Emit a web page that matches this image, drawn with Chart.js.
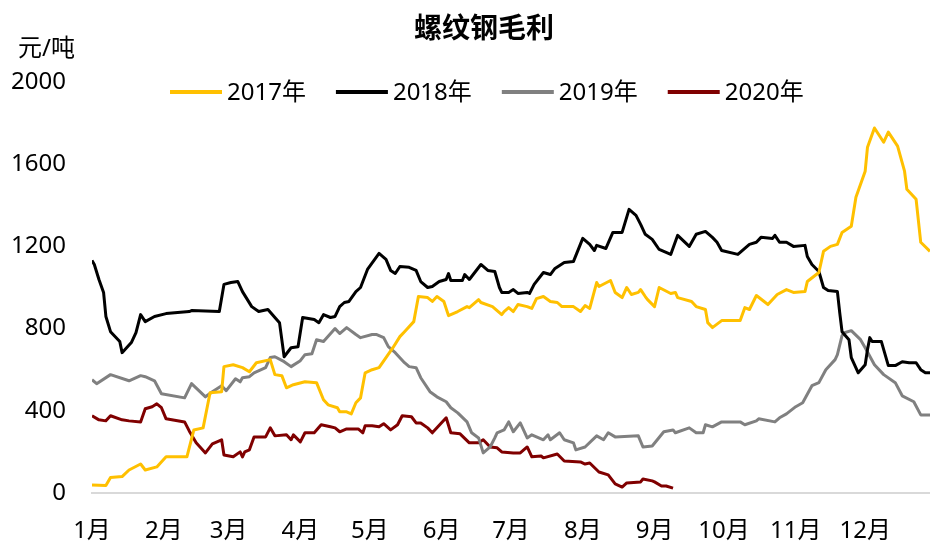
<!DOCTYPE html>
<html>
<head>
<meta charset="utf-8">
<script src="https://cdn.jsdelivr.net/npm/chart.js@4.4.0/dist/chart.umd.min.js"></script>
<style>
  html, body { margin: 0; padding: 0; background: #fff; }
  #wrap { width: 930px; height: 547px; }
</style>
</head>
<body>
<div id="wrap"><canvas id="marginChart" width="930" height="547"></canvas></div>
<script>
// x values are day-of-year (1 = 1月1日)
var days2017 = [1,7,9,14,17,22,24,29,33,42,45,49,52,57,58,62,66,69,72,78,80,83,85,88,93,98,101,103,107,108,
    111,113,115,117,119,122,125,128,131,134,136,140,142,146,148,150,153,155,159,163,164,168,169,174,178,179,181,183,185,189,
    191,193,196,199,202,204,209,212,214,216,219,220,225,227,230,232,234,237,238,240,241,244,246,251,253,254,260,262,266,267,
    269,273,281,283,285,288,293,297,301,304,309,310,315,317,320,323,325,329,331,335,336,339,343,345,349,352,353,357,359,363];
var vals2017 = [39,36,75,80,112,141,112,127,176,176,307,317,488,493,615,624,610,590,634,649,576,571,512,527,541,537,454,429,415,395,
    395,385,439,463,585,600,610,659,707,761,785,834,956,951,932,956,932,863,883,907,902,941,927,907,868,883,902,883,917,907,
    898,946,956,932,927,907,907,883,912,898,1024,1005,1034,976,951,1000,966,976,990,956,941,907,1000,971,976,951,932,907,893,829,
    805,839,839,902,893,961,917,966,990,976,980,1029,1073,1176,1200,1210,1268,1298,1439,1566,1683,1776,1707,1756,1688,1566,1478,1429,1220,1176];

var days2018 = [1,2,4,6,7,9,13,14,18,20,22,24,28,33,43,44,56,58,61,64,66,70,73,77,80,82,84,87,90,92,
    97,99,101,104,106,108,110,112,115,117,120,125,128,130,132,134,138,141,143,146,148,151,154,155,156,161,162,164,169,172,
    175,177,178,181,183,185,189,190,192,196,199,201,205,209,213,216,218,219,223,226,230,233,236,238,240,243,246,251,254,259,
    262,266,269,271,273,280,285,288,290,295,296,298,301,304,309,310,312,315,317,319,323,324,325,328,329,332,335,336,337,338,
    342,345,348,351,354,357,359,361,363];
var vals2018 = [1132,1112,1039,976,859,785,737,683,732,780,868,834,859,873,883,888,883,1015,1024,1029,980,907,883,893,854,829,663,707,712,854,
    844,829,868,854,859,907,927,932,980,1000,1088,1166,1137,1083,1068,1102,1098,1083,1029,1000,1005,1029,1039,1068,1034,1034,1063,1039,1112,1083,
    1078,1000,976,976,990,971,976,971,1015,1073,1063,1093,1122,1127,1239,1210,1180,1205,1190,1268,1268,1380,1351,1307,1259,1234,1185,1161,1254,1200,
    1259,1273,1244,1220,1180,1161,1210,1220,1244,1239,1254,1220,1220,1200,1205,1151,1112,1078,1000,985,980,878,785,746,659,585,624,698,756,737,
    737,620,620,639,634,634,600,585,585];

var days2019 = [1,3,9,17,22,24,28,31,41,44,50,53,57,59,63,65,66,69,71,76,78,80,84,87,91,93,96,98,101,106,
    108,111,115,117,122,124,127,129,132,136,138,141,143,147,150,154,156,159,163,165,168,170,173,175,176,179,181,183,186,189,
    191,196,198,199,203,205,209,210,214,219,222,224,227,237,239,243,248,252,253,259,262,265,266,269,273,281,283,288,289,296,
    298,301,305,308,312,315,318,322,323,325,326,329,333,335,339,343,348,351,356,359,363];
var vals2019 = [551,532,576,546,571,566,546,483,463,532,468,493,522,498,556,541,561,566,585,610,659,663,639,615,644,673,678,746,737,800,
    776,805,771,756,771,771,756,712,683,634,615,610,561,493,468,444,415,390,346,293,268,195,224,268,293,307,346,298,341,268,
    283,259,283,259,293,259,244,210,224,278,259,293,273,278,224,229,298,307,293,317,293,293,332,322,346,346,332,351,361,346,
    366,385,420,439,522,537,600,649,673,766,780,790,746,707,624,576,537,473,444,380,380];

var days2020 = [1,4,7,9,14,17,22,24,27,29,31,33,41,43,46,50,53,57,58,62,65,66,67,69,71,76,78,80,85,87,
    88,91,93,97,100,104,106,108,111,116,118,119,122,125,127,130,133,135,139,141,143,146,148,154,156,160,164,168,170,173,
    176,178,183,186,189,191,195,196,202,205,212,214,216,220,224,227,230,232,238,239,243,244,247,249,252];
var vals2020 = [376,356,351,376,356,351,346,410,420,434,415,361,346,302,244,195,239,259,185,176,200,176,200,210,273,273,317,278,283,259,
    283,249,293,293,332,322,317,298,312,312,293,327,327,322,337,307,332,376,371,341,341,317,293,366,293,288,244,244,259,224,
    220,200,195,195,224,176,180,171,190,156,151,141,146,102,88,44,29,49,54,68,59,54,34,34,24];

var seriesLabels = ['2017年', '2018年', '2019年', '2020年'];
var seriesColors = ['#FFC000', '#000000', '#808080', '#800000'];
var monthTicks = [1, 32, 60, 91, 121, 152, 182, 213, 244, 274, 305, 335];
var monthLabels = ['1月', '2月', '3月', '4月', '5月', '6月', '7月', '8月', '9月', '10月', '11月', '12月'];
var yTicks = [0, 400, 800, 1200, 1600, 2000];
var chartTitle = '螺纹钢毛利';
var unitLabel = '元/吨';

var fontFamily = '"Noto Sans", "Noto Sans CJK SC", sans-serif';

function toPoints(days, vals) {
    return days.map(function (d, i) {
        return { x: d, y: vals[i] };
    });
}

function makeDataset(idx, days, vals) {
    return {
        label: seriesLabels[idx],
        data: toPoints(days, vals),
        borderColor: seriesColors[idx],
        backgroundColor: seriesColors[idx],
        borderWidth: 3,
        borderJoinStyle: 'round',
        pointRadius: 0,
        tension: 0,
        fill: false
    };
}

// title, unit and legend drawn at fixed spots like the original sheet
var headerPlugin = {
    id: 'header',
    afterDraw: function (chart) {
        var ctx = chart.ctx;
        ctx.save();
        ctx.fillStyle = '#000';
        ctx.textBaseline = 'middle';

        ctx.font = 'bold 28px "Noto Sans CJK SC", sans-serif';
        ctx.textAlign = 'center';
        ctx.fillText(chartTitle, 484, 27);

        ctx.font = '24px ' + fontFamily;
        ctx.textAlign = 'left';
        ctx.fillText(unitLabel, 18, 49);

        var x = 170;
        chart.data.datasets.forEach(function (ds) {
            ctx.strokeStyle = ds.borderColor;
            ctx.lineWidth = 4;
            ctx.beginPath();
            ctx.moveTo(x, 92);
            ctx.lineTo(x + 52, 92);
            ctx.stroke();
            ctx.fillText(ds.label, x + 57, 93);
            x += 52 + 5 + ctx.measureText(ds.label).width + 30;
        });
        ctx.restore();
    }
};

var ctx = document.getElementById('marginChart').getContext('2d');
var marginChart = new Chart(ctx, {
    type: 'line',
    data: {
        datasets: [
            makeDataset(0, days2017, vals2017),
            makeDataset(1, days2018, vals2018),
            makeDataset(2, days2019, vals2019),
            makeDataset(3, days2020, vals2020)
        ]
    },
    options: {
        responsive: false,
        animation: false,
        devicePixelRatio: 1,
        layout: { padding: { top: 82, right: 0, bottom: 0, left: 0 } },
        plugins: {
            legend: { display: false },
            title: { display: false },
            tooltip: { enabled: false }
        },
        scales: {
            x: {
                type: 'linear',
                min: 1,
                max: 363,
                grid: { display: false, drawTicks: false },
                border: { display: true, color: '#D9D9D9', width: 2 },
                afterBuildTicks: function (scale) {
                    scale.ticks = monthTicks.map(function (v) { return { value: v }; });
                },
                afterFit: function (scale) { scale.height = 54; },
                ticks: {
                    autoSkip: false,
                    maxRotation: 0,
                    minRotation: 0,
                    padding: 24,
                    color: '#000',
                    font: { family: fontFamily, size: 24 },
                    callback: function (value) {
                        return monthLabels[monthTicks.indexOf(value)];
                    }
                }
            },
            y: {
                min: 0,
                max: 2000,
                grid: { display: false, drawTicks: false },
                border: { display: false },
                afterBuildTicks: function (scale) {
                    scale.ticks = yTicks.map(function (v) { return { value: v }; });
                },
                afterFit: function (scale) { scale.width = 92; },
                ticks: {
                    padding: 26,
                    color: '#000',
                    font: { family: fontFamily, size: 24 },
                    callback: function (value) {
                        return String(value);
                    }
                }
            }
        }
    },
    plugins: [headerPlugin]
});
</script>
</body>
</html>
